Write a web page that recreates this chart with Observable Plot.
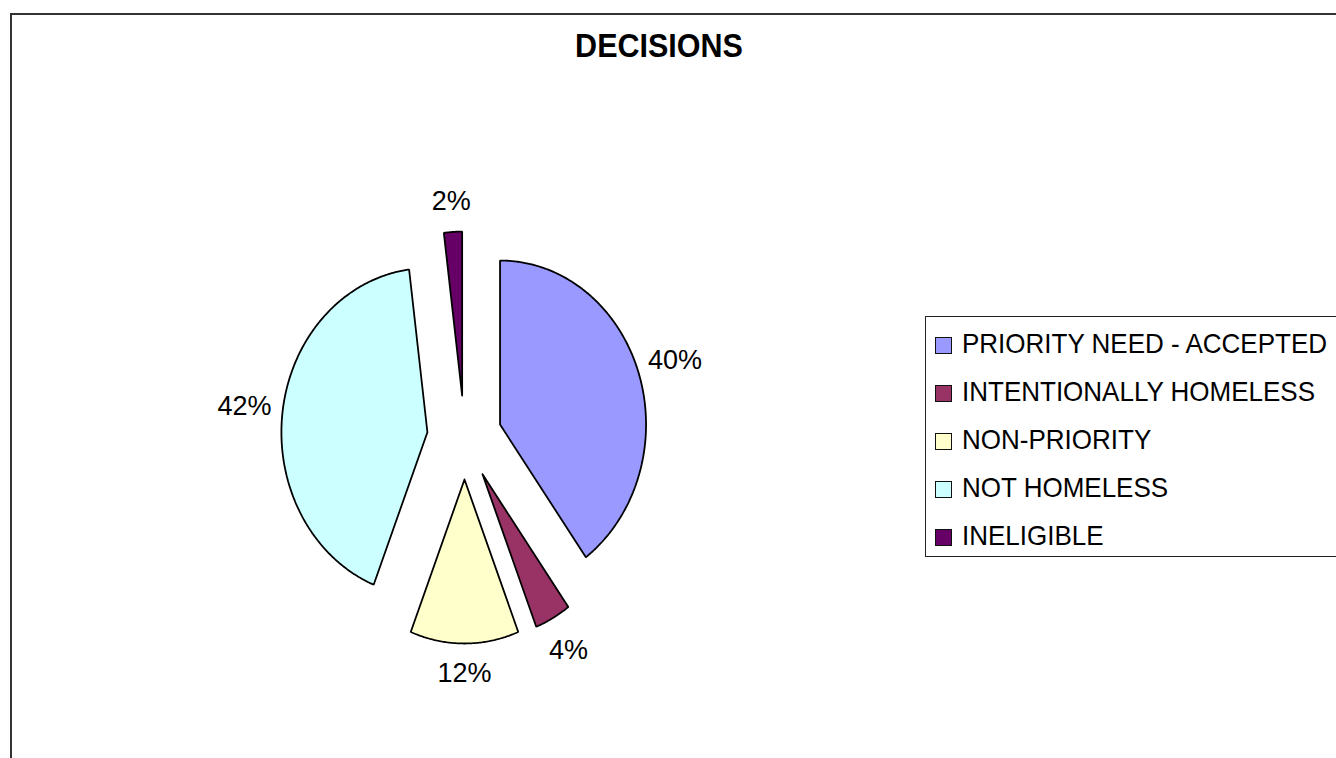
<!DOCTYPE html>
<html>
<head>
<meta charset="utf-8">
<script src="https://cdn.jsdelivr.net/npm/d3@7"></script>
<script src="https://cdn.jsdelivr.net/npm/@observablehq/plot@0.6"></script>
<style>
  html, body { margin: 0; padding: 0; background: #fff; }
  body { font-family: "Liberation Sans", Arial, sans-serif; }
  #wrap { position: relative; width: 1336px; height: 758px; overflow: hidden; background: #fff; }
  #frame { position: absolute; left: 10px; top: 13px; width: 1500px; height: 900px;
           border-left: 2px solid #333; border-top: 2px solid #333; box-sizing: border-box; }
  #chart { position: absolute; left: 0; top: 0; }
  #title { position: absolute; left: 0; width: 1318px; top: 30.5px; text-align: center;
           font-weight: bold; font-size: 30.5px; line-height: 1; color: #000; white-space: nowrap;
           transform: scaleY(1.07); transform-origin: 50% 85%; }
  #legendBox { position: absolute; left: 925px; top: 316px; width: 600px; height: 241px;
               border: 1.5px solid #222; box-sizing: border-box; background: #fff; }
  .lg-row { position: absolute; left: 962px; font-size: 26px; line-height: 1; color: #000; white-space: nowrap;
            transform: scaleY(1.07); transform-origin: 0 85%; }
  .lg-sw { position: absolute; left: 935px; width: 17px; height: 17px; box-sizing: border-box; border: 1.5px solid #111; }
</style>
</head>
<body>
<div id="wrap">
  <div id="frame"></div>
  <div id="chart"></div>
  <div id="title"></div>
  <div id="legendBox"></div>
</div>
<script>
// ---- data ----
const titleText = "DECISIONS";
const categories = ["PRIORITY NEED - ACCEPTED", "INTENTIONALLY HOMELESS", "NON-PRIORITY", "NOT HOMELESS", "INELIGIBLE"];
const percents = [40, 4, 12, 42, 2];
const colors = ["#9999FF", "#993366", "#FFFFCC", "#CCFFFF", "#660066"];

// ---- layout ----
const W = 1336, H = 758;
const cx = 464, cy = 437, rx = 146, ry = 164;
const explode = 0.256;

const total = d3.sum(percents);
let acc = 0;
const slices = categories.map((name, i) => {
  const a0 = acc / total * 2 * Math.PI;
  acc += percents[i];
  const a1 = acc / total * 2 * Math.PI;
  return {name, value: percents[i], a0, a1, mid: (a0 + a1) / 2};
});

const outline = slices.flatMap(s => {
  const ox = explode * Math.sin(s.mid), oy = explode * Math.cos(s.mid);
  const n = Math.max(2, Math.ceil((s.a1 - s.a0) / (Math.PI / 360)));
  const pts = [{name: s.name, x: ox, y: oy}];
  for (let k = 0; k <= n; k++) {
    const t = s.a0 + (s.a1 - s.a0) * k / n;
    pts.push({name: s.name, x: ox + Math.sin(t), y: oy + Math.cos(t)});
  }
  pts.push({name: s.name, x: ox, y: oy});
  return pts;
});

const labels = slices.map(s => {
  const r = 1.44 + 0.08 * Math.abs(Math.sin(s.mid));
  return {text: s.value + "%", x: r * Math.sin(s.mid), y: r * Math.cos(s.mid)};
});

const chart = Plot.plot({
  width: W,
  height: H,
  margin: 0,
  style: {background: "transparent", fontFamily: "'Liberation Sans', Arial, sans-serif", overflow: "visible"},
  x: {domain: [-cx / rx, (W - cx) / rx], range: [0, W], axis: null},
  y: {domain: [-(H - cy) / ry, cy / ry], range: [H, 0], axis: null},
  color: {type: "ordinal", domain: categories, range: colors},
  marks: [
    Plot.line(outline, {x: "x", y: "y", z: "name", fill: "name", stroke: "#000", strokeWidth: 1.8,
                        strokeLinejoin: "miter", curve: "linear"}),
    Plot.text(labels, {x: "x", y: "y", text: "text", fontSize: 27, fill: "#000"})
  ]
});
document.getElementById("chart").appendChild(chart);
document.getElementById("title").textContent = titleText;

// legend from the plot's colour scale
const colorScale = chart.scale("color");
const wrap = document.getElementById("wrap");
categories.forEach((name, i) => {
  const baseline = 353.3 + 48 * i;
  const sw = document.createElement("div");
  sw.className = "lg-sw";
  sw.style.top = (baseline - 16.5) + "px";
  sw.style.background = colorScale.range[colorScale.domain.indexOf(name)];
  wrap.appendChild(sw);
  const t = document.createElement("div");
  t.className = "lg-row";
  t.style.top = (baseline - 0.8465 * 26) + "px";
  t.textContent = name;
  wrap.appendChild(t);
});
</script>
</body>
</html>
